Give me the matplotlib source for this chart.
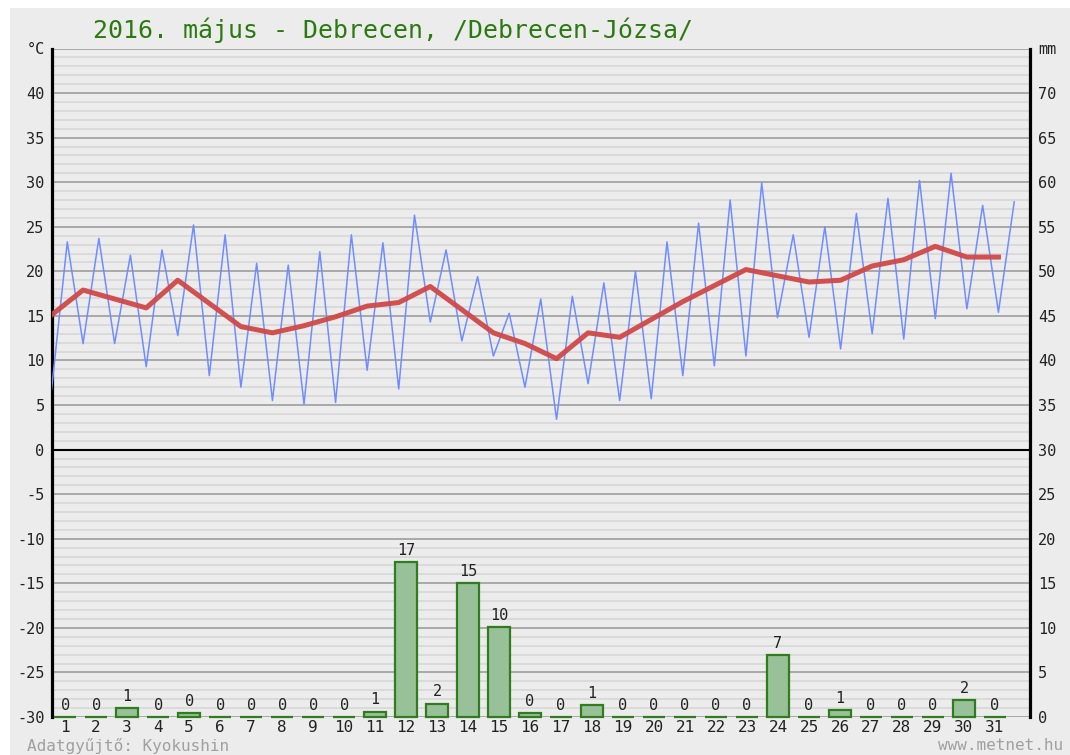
import numpy as np
import matplotlib
matplotlib.use("Agg")
import matplotlib.pyplot as plt
from matplotlib.patches import Rectangle

# Adatok - 2016. május, Debrecen-Józsa
napok = list(range(1, 32))
t_min = [6.7, 11.9, 11.9, 9.3, 12.8, 8.3, 7.0, 5.5, 5.1, 5.3,
         8.9, 6.8, 14.3, 12.2, 10.5, 7.0, 3.4, 7.4, 5.5, 5.7,
         8.3, 9.4, 10.5, 14.8, 12.6, 11.3, 13.0, 12.4, 14.7, 15.8, 15.4]
t_max = [23.3, 23.7, 21.8, 22.4, 25.2, 24.1, 20.9, 20.7, 22.2, 24.1,
         23.2, 26.3, 22.4, 19.4, 15.3, 16.9, 17.2, 18.7, 20.0, 23.3,
         25.4, 28.0, 29.9, 24.1, 25.0, 26.5, 28.2, 30.2, 31.0, 27.4, 27.8]
t_kozep = [15.1, 17.9, 16.9, 15.9, 19.0, 16.4, 13.8, 13.1, 13.9, 14.9,
           16.1, 16.5, 18.3, 15.7, 13.1, 11.9, 10.2, 13.1, 12.6, 14.6,
           16.6, 18.4, 20.2, 19.5, 18.8, 19.0, 20.6, 21.3, 22.8, 21.6, 21.6]
csapadek = [0, 0, 1.0, 0, 0.4, 0, 0, 0, 0, 0,
            0.6, 17.35, 1.5, 15.0, 10.1, 0.4, 0, 1.35, 0, 0,
            0, 0, 0, 6.95, 0, 0.8, 0, 0, 0, 1.9, 0]

cim = "2016. május - Debrecen, /Debrecen-Józsa/"
mono = "DejaVu Sans Mono"

fig = plt.figure(figsize=(10.7, 7.55), dpi=100)
fig.patch.set_facecolor("white")
fig.patches.append(Rectangle((10 / 1070, 0), 1, 1 - 8 / 755, transform=fig.transFigure,
                             facecolor="#ececec", edgecolor="none", zorder=-10))

rect = [51.5 / 1070, 1 - 717 / 755, (1030 - 51.5) / 1070, (717 - 48.5) / 755]

# homerseklet tengely
ax = fig.add_axes(rect)
ax.set_facecolor("none")
ax.set_xlim(0, 31)
ax.set_ylim(-30, 45)
for v in np.arange(-29, 45, 1):
    if v % 5 != 0:
        ax.axhline(v, color="#dadada", lw=1.4, zorder=0)
for v in np.arange(-30, 46, 5):
    ax.axhline(v, color="#a3a3a3", lw=1.3, zorder=1)
ax.axhline(0, color="black", lw=1.5, zorder=2)

x_zz = np.ravel([[d - 1, d - 0.5] for d in napok])
y_zz = np.ravel(list(zip(t_min, t_max)))
ax.plot(x_zz, y_zz, color="#6f8dff", lw=1.1, zorder=3)
ax.plot([d - 1 for d in napok], t_kozep, color="#d04848", lw=3.6, alpha=0.95,
        solid_joinstyle="round", zorder=4)

ax.set_yticks(list(range(-30, 41, 5)) + [45])
ax.set_yticklabels([str(v) for v in range(-30, 41, 5)] + ["°C"], fontfamily=mono, fontsize=11)
ax.tick_params(axis="y", length=0, pad=5, colors="#222222")
ax.set_xticks([])
for s in ["top", "bottom"]:
    ax.spines[s].set_visible(False)
ax.spines["left"].set_linewidth(2.3)
ax.spines["right"].set_linewidth(2.3)

# csapadek tengely
axb = fig.add_axes(rect)
axb.set_facecolor("none")
axb.set_xlim(0.56, 32.13)
axb.set_ylim(0, 75)
axb.bar(napok, csapadek, width=0.7, color="#99c199", edgecolor="#2f7d1f", lw=1.6,
        zorder=5, clip_on=False)
for d, c in zip(napok, csapadek):
    axb.annotate(f"{c:.0f}", (d, c), xytext=(0, 3), textcoords="offset points",
                 ha="center", va="bottom", fontfamily=mono, fontsize=11, color="#222222")
axb.set_xticks(napok)
axb.set_xticklabels([str(d) for d in napok], fontfamily=mono, fontsize=11.5)
axb.tick_params(axis="x", length=0, pad=2, colors="#222222")
axb.yaxis.tick_right()
axb.set_yticks(list(range(0, 71, 5)) + [75])
axb.set_yticklabels([str(v) for v in range(0, 71, 5)] + ["mm"], fontfamily=mono, fontsize=11)
axb.tick_params(axis="y", length=0, pad=6, colors="#222222")
for s in axb.spines.values():
    s.set_visible(False)

fig.text(93 / 1070, 1 - 30 / 755, cim, fontfamily=mono, fontsize=17.9, color="#2a7a10",
         ha="left", va="center")
fig.text(27 / 1070, 1 - 746 / 755, "Adatgyűjtő: Kyokushin", fontfamily=mono, fontsize=11.5,
         color="#a0a0a0", ha="left", va="center")
fig.text(1063 / 1070, 1 - 746 / 755, "www.metnet.hu", fontfamily=mono, fontsize=11.5,
         color="#a0a0a0", ha="right", va="center")

fig.savefig("out.png", dpi=100)
